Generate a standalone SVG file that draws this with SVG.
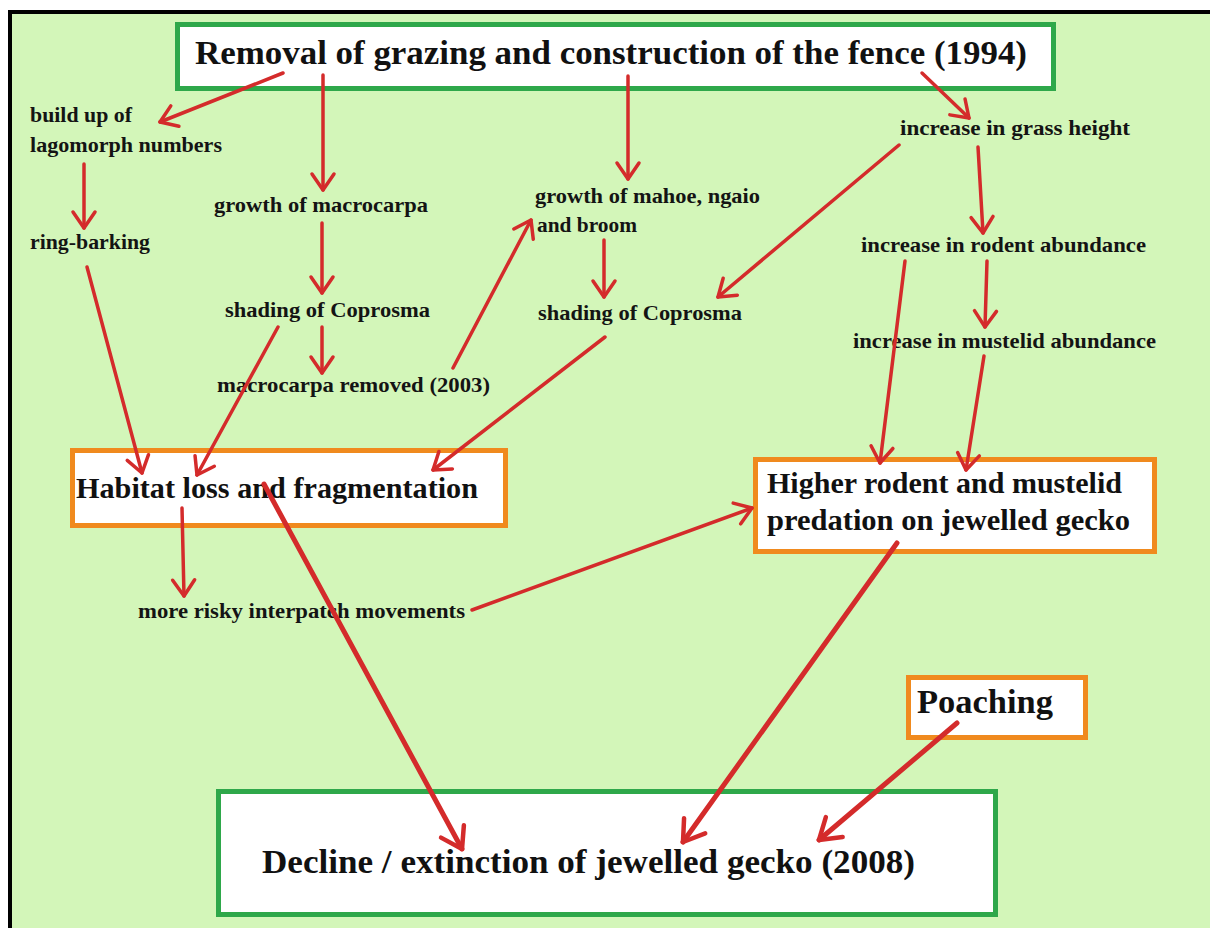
<svg xmlns="http://www.w3.org/2000/svg" width="1210" height="928" viewBox="0 0 1210 928">
<style>
.lbl{font-family:"Liberation Serif","Times New Roman",serif;font-weight:bold;font-size:22px;fill:#141414}
.big{font-family:"Liberation Serif","Times New Roman",serif;font-weight:bold;fill:#111}
.gbox{fill:#ffffff;stroke:#2ea84a;stroke-width:5}
.obox{fill:#ffffff;stroke:#f08a1e;stroke-width:5}
.c{fill:none;stroke:#d42b2b;stroke-width:3.5;stroke-linecap:round}
.t{fill:none;stroke:#d42b2b;stroke-width:5;stroke-linecap:round}
</style>
<defs>
<marker id="ah" viewBox="-22 -15 26 30" markerWidth="26" markerHeight="30" refX="0" refY="0" orient="auto" markerUnits="userSpaceOnUse">
<path d="M-16,-11 L0,0 L-16,11" fill="none" stroke="#d42b2b" stroke-width="3.5" stroke-linecap="round" stroke-linejoin="round"/>
</marker>
<marker id="ahb" viewBox="-26 -18 30 36" markerWidth="30" markerHeight="36" refX="0" refY="0" orient="auto" markerUnits="userSpaceOnUse">
<path d="M-20,-13 L0,0 L-20,13" fill="none" stroke="#d42b2b" stroke-width="4.5" stroke-linecap="round" stroke-linejoin="round"/>
</marker>
</defs>
<rect x="0" y="0" width="1210" height="928" fill="#ffffff"/>
<rect x="12" y="14" width="1198" height="914" fill="#d3f6b9"/>
<rect x="8" y="10" width="1202" height="4" fill="#000"/>
<rect x="8" y="10" width="4" height="918" fill="#000"/>

<g id="n-title">
<rect class="gbox" x="177.5" y="24.5" width="876" height="64"/>
<text class="big" x="195" y="64" font-size="34" textLength="832" lengthAdjust="spacingAndGlyphs">Removal of grazing and construction of the fence (1994)</text>
</g>
<g id="n-lagomorph">
<text class="lbl" x="30" y="122" textLength="102" lengthAdjust="spacingAndGlyphs">build up of</text>
<text class="lbl" x="30" y="152" textLength="192" lengthAdjust="spacingAndGlyphs">lagomorph numbers</text>
</g>
<g id="n-ringbarking"><text class="lbl" x="30" y="249" textLength="120" lengthAdjust="spacingAndGlyphs">ring-barking</text></g>
<g id="n-macrocarpa"><text class="lbl" x="214" y="212" textLength="214" lengthAdjust="spacingAndGlyphs">growth of macrocarpa</text></g>
<g id="n-shading1"><text class="lbl" x="225" y="317" textLength="205" lengthAdjust="spacingAndGlyphs">shading of Coprosma</text></g>
<g id="n-removed"><text class="lbl" x="217" y="392" textLength="273" lengthAdjust="spacingAndGlyphs">macrocarpa removed (2003)</text></g>
<g id="n-mahoe">
<text class="lbl" x="535" y="203" textLength="225" lengthAdjust="spacingAndGlyphs">growth of mahoe, ngaio</text>
<text class="lbl" x="537" y="232" textLength="100" lengthAdjust="spacingAndGlyphs">and broom</text>
</g>
<g id="n-shading2"><text class="lbl" x="538" y="320" textLength="204" lengthAdjust="spacingAndGlyphs">shading of Coprosma</text></g>
<g id="n-grass"><text class="lbl" x="900" y="135" textLength="230" lengthAdjust="spacingAndGlyphs">increase in grass height</text></g>
<g id="n-rodent"><text class="lbl" x="861" y="252" textLength="285" lengthAdjust="spacingAndGlyphs">increase in rodent abundance</text></g>
<g id="n-mustelid"><text class="lbl" x="853" y="348" textLength="303" lengthAdjust="spacingAndGlyphs">increase in mustelid abundance</text></g>
<g id="n-habitat">
<rect class="obox" x="72.5" y="450.5" width="433" height="75"/>
<text class="big" x="76" y="498" font-size="30" textLength="402" lengthAdjust="spacingAndGlyphs">Habitat loss and fragmentation</text>
</g>
<g id="n-risky"><text class="lbl" x="138" y="618" textLength="327" lengthAdjust="spacingAndGlyphs">more risky interpatch movements</text></g>
<g id="n-predation">
<rect class="obox" x="755.5" y="459.5" width="399" height="92"/>
<text class="big" x="767" y="493" font-size="30" textLength="355" lengthAdjust="spacingAndGlyphs">Higher rodent and mustelid</text>
<text class="big" x="767" y="530" font-size="30" textLength="363" lengthAdjust="spacingAndGlyphs">predation on jewelled gecko</text>
</g>
<g id="n-poaching">
<rect class="obox" x="908.5" y="677.5" width="177" height="60"/>
<text class="big" x="917" y="713" font-size="34" textLength="136" lengthAdjust="spacingAndGlyphs">Poaching</text>
</g>
<g id="n-decline">
<rect class="gbox" x="218.5" y="791.5" width="777" height="123"/>
<text class="big" x="262" y="873" font-size="34" textLength="653" lengthAdjust="spacingAndGlyphs">Decline / extinction of jewelled gecko (2008)</text>
</g>

<g id="connectors">
<line class="c" x1="283" y1="73" x2="160" y2="122" marker-end="url(#ah)"/>
<line class="c" x1="323" y1="75" x2="323" y2="190" marker-end="url(#ah)"/>
<line class="c" x1="628" y1="76" x2="628" y2="179" marker-end="url(#ah)"/>
<line class="c" x1="922" y1="73" x2="969" y2="118" marker-end="url(#ah)"/>
<line class="c" x1="84" y1="164" x2="84" y2="228" marker-end="url(#ah)"/>
<line class="c" x1="322" y1="223" x2="322" y2="293" marker-end="url(#ah)"/>
<line class="c" x1="322" y1="327" x2="322" y2="373" marker-end="url(#ah)"/>
<line class="c" x1="453" y1="368" x2="531" y2="220" marker-end="url(#ah)"/>
<line class="c" x1="604" y1="240" x2="604" y2="297" marker-end="url(#ah)"/>
<line class="c" x1="899" y1="145" x2="718" y2="297" marker-end="url(#ah)"/>
<line class="c" x1="978" y1="147" x2="983" y2="233" marker-end="url(#ah)"/>
<line class="c" x1="987" y1="261" x2="985" y2="327" marker-end="url(#ah)"/>
<line class="c" x1="905" y1="261" x2="880" y2="463" marker-end="url(#ah)"/>
<line class="c" x1="984" y1="356" x2="966" y2="470" marker-end="url(#ah)"/>
<line class="c" x1="87" y1="267" x2="142" y2="473" marker-end="url(#ah)"/>
<line class="c" x1="278" y1="327" x2="197" y2="475" marker-end="url(#ah)"/>
<line class="c" x1="605" y1="337" x2="433" y2="470" marker-end="url(#ah)"/>
<line class="c" x1="182" y1="508" x2="184" y2="596" marker-end="url(#ah)"/>
<line class="c" x1="472" y1="610" x2="752" y2="508" marker-end="url(#ah)"/>
<line class="t" x1="264" y1="484" x2="462" y2="849" marker-end="url(#ahb)"/>
<line class="t" x1="897" y1="543" x2="683" y2="842" marker-end="url(#ahb)"/>
<line class="t" x1="957" y1="723" x2="819" y2="840" marker-end="url(#ahb)"/>
</g>
</svg>
